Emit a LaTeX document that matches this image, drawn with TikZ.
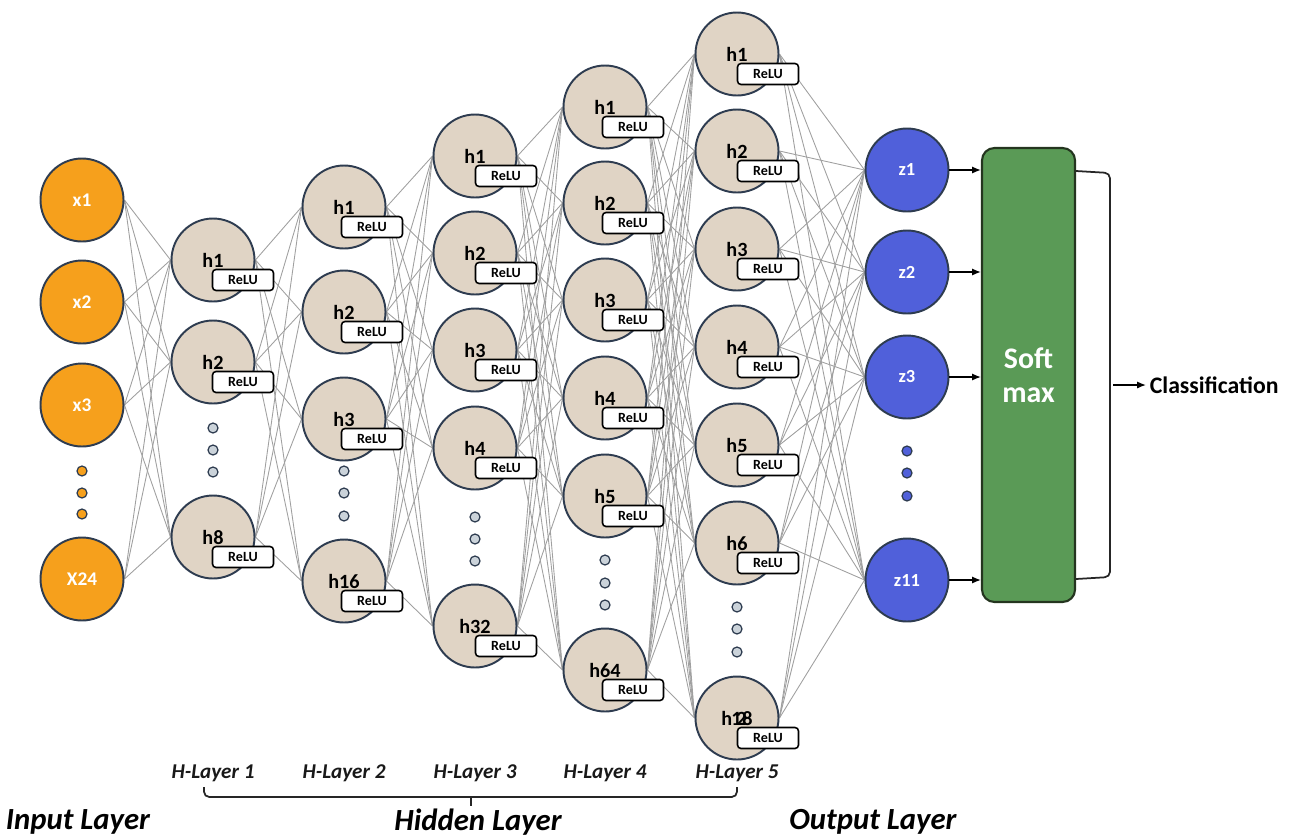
\documentclass[tikz,border=0pt]{standalone}
\usepackage{fontspec}
\setmainfont{Carlito}
\usetikzlibrary{arrows.meta}
\definecolor{inorange}{HTML}{F6A01C}
\definecolor{hidbeige}{HTML}{E0D4C5}
\definecolor{outblue}{HTML}{5060DA}
\definecolor{nodeline}{HTML}{2E3C50}
\definecolor{dotgray}{HTML}{CBD3DA}
\definecolor{conngray}{HTML}{A0A0A0}
\definecolor{softgreen}{HTML}{5A9A56}
\definecolor{softline}{HTML}{24351F}
\pgfdeclarelayer{bg}
\pgfsetlayers{bg,main}
\newcommand\hlast{h\kern-0.5pt1\kern-3pt2\kern-2.5pt8}
\tikzset{
  neuron/.style={circle, draw=nodeline, line width=1.1pt, minimum size=1.66cm, inner sep=0pt},
  inp/.style={neuron, fill=inorange, text=white, font=\bfseries\fontsize{11}{13}\selectfont},
  hid/.style={neuron, fill=hidbeige, text=black, font=\bfseries\fontsize{11.5}{13}\selectfont},
  outn/.style={neuron, fill=outblue, text=white, font=\bfseries\fontsize{10.5}{12}\selectfont},
  relubox/.style={draw=black, line width=0.9pt, fill=white, rounded corners=2pt, minimum width=1.22cm, minimum height=0.42cm, inner sep=0pt, font=\bfseries\fontsize{8}{9}\selectfont},
  smalldot/.style={circle, draw=nodeline, line width=0.7pt, minimum size=0.2cm, inner sep=0pt},
  dotin/.style={smalldot, fill=inorange},
  dothid/.style={smalldot, fill=dotgray},
  dotout/.style={smalldot, fill=outblue},
  conn/.style={draw=conngray, line width=0.5pt},
  arr/.style={draw=black, line width=0.8pt, -{Latex[length=5pt,width=4pt]}},
  brk/.style={draw=black!85, line width=1pt, rounded corners=3pt},
  softbox/.style={draw=softline, fill=softgreen, line width=1.2pt, rounded corners=7pt, minimum width=1.86cm, minimum height=9.08cm, text=white, align=center, font=\bfseries\fontsize{17}{19.5}\selectfont},
  hlab/.style={font=\bfseries\itshape\fontsize{12}{14}\selectfont, text=black!90},
  biglab/.style={font=\bfseries\itshape\fontsize{17.5}{20}\selectfont, text=black},
  clslab/.style={font=\bfseries\fontsize{13.5}{16}\selectfont, text=black, inner sep=2pt}
}
\begin{document}
\begin{tikzpicture}[x=0.02cm,y=-0.02cm]
\useasboundingbox (0,0) rectangle (1295,836);

% input layer
\foreach \n/\y/\t in {1/200/x1,2/302/x2,3/405/x3,4/579/X24}
  \node[inp] (a\n) at (82,\y) {\t};
\foreach \n/\y in {1/471,2/493,3/514}
  \node[dotin] (ad\n) at (82,\y) {};

% hidden layer 1
\foreach \n/\y/\t in {1/260/h1,2/362/h2,3/537/h8}{
  \node[hid] (b\n) at (213,\y) {\t};
  \node[relubox] (rb\n) at ([shift={(30,20)}]b\n.center) {ReLU};
}
\foreach \n/\y in {1/428,2/450,3/472}
  \node[dothid] (bd\n) at (213,\y) {};

% hidden layer 2
\foreach \n/\y/\t in {1/207/h1,2/312/h2,3/419/h3,4/581/h16}{
  \node[hid] (c\n) at (344,\y) {\t};
  \node[relubox] (rc\n) at ([shift={(28,20)}]c\n.center) {ReLU};
}
\foreach \n/\y in {1/471,2/493,3/516}
  \node[dothid] (cd\n) at (344,\y) {};

% hidden layer 3
\foreach \n/\y/\t in {1/156/h1,2/253/h2,3/350/h3,4/448/h4,5/626/h32}{
  \node[hid] (d\n) at (475,\y) {\t};
  \node[relubox] (rd\n) at ([shift={(31,20)}]d\n.center) {ReLU};
}
\foreach \n/\y in {1/517,2/539,3/561}
  \node[dothid] (dd\n) at (475,\y) {};

% hidden layer 4
\foreach \n/\y/\t in {1/107/h1,2/203/h2,3/300/h3,4/398/h4,5/496/h5,6/670/h64}{
  \node[hid] (e\n) at (605,\y) {\t};
  \node[relubox] (re\n) at ([shift={(28,20)}]e\n.center) {ReLU};
}
\foreach \n/\y in {1/560,2/583,3/605}
  \node[dothid] (ed\n) at (605,\y) {};

% hidden layer 5
\foreach \n/\y/\t in {1/54/h1,2/151/h2,3/249/h3,4/347/h4,5/445/h5,6/543/h6,7/718/\hlast}{
  \node[hid] (f\n) at (737,\y) {\t};
  \node[relubox] (rf\n) at ([shift={(31,20)}]f\n.center) {ReLU};
}
\foreach \n/\y in {1/607,2/629,3/652}
  \node[dothid] (fd\n) at (737,\y) {};

% output layer
\foreach \n/\y/\t in {1/170/z1,2/272/z2,3/377/z3,4/580/z11}
  \node[outn] (z\n) at (907,\y) {\t};
\foreach \n/\y in {1/451,2/473,3/496}
  \node[dotout] (zd\n) at (907,\y) {};

% connections
\begin{pgfonlayer}{bg}
\foreach \i in {1,...,4}{\foreach \j in {1,...,3}{\draw[conn] (a\i.east) -- (b\j.west);}}
\foreach \i in {1,...,3}{\foreach \j in {1,...,4}{\draw[conn] (b\i.east) -- (c\j.west);}}
\foreach \i in {1,...,4}{\foreach \j in {1,...,5}{\draw[conn] (c\i.east) -- (d\j.west);}}
\foreach \i in {1,...,5}{\foreach \j in {1,...,6}{\draw[conn] (d\i.east) -- (e\j.west);}}
\foreach \i in {1,...,6}{\foreach \j in {1,...,7}{\draw[conn] (e\i.east) -- (f\j.west);}}
\foreach \i in {1,...,7}{\foreach \j in {1,...,4}{\draw[conn] (f\i.east) -- (z\j.west);}}
\end{pgfonlayer}

% softmax
\node[softbox] (sm) at (1028.5,375) {Soft\\max};
\foreach \n in {1,...,4}
  \draw[arr] (z\n.east) -- (z\n.east -| sm.west);

\coordinate (bt) at (1110,173);
\coordinate (bb) at (1110,577);
\draw[brk] (sm.east |- 0,171) -- (bt) -- (bb) -- (sm.east |- 0,579);
\node[clslab, anchor=west] (cls) at (1146,385) {Classification};
\coordinate (bm) at (1113,385);
\draw[arr] (bm) -- (cls.west);

% bottom labels
\foreach \n/\x in {1/213,2/344,3/475,4/605,5/737}
  \node[hlab] (hl\n) at (\x,773) {H-Layer \n};
\coordinate (bl1) at (204,787);
\coordinate (bl2) at (204,797);
\coordinate (bl3) at (737,797);
\coordinate (bl4) at (737,787);
\coordinate (bm1) at (471,797);
\coordinate (bm2) at (471,806);
\draw[brk] (bl1) -- (bl2) -- (bl3) -- (bl4);
\draw[brk] (bm1) -- (bm2);
\node[biglab] (inl) at (78,822) {Input Layer};
\node[biglab] (hdl) at (478,822) {Hidden Layer};
\node[biglab] (oul) at (873,822) {Output Layer};
\end{tikzpicture}
\end{document}
